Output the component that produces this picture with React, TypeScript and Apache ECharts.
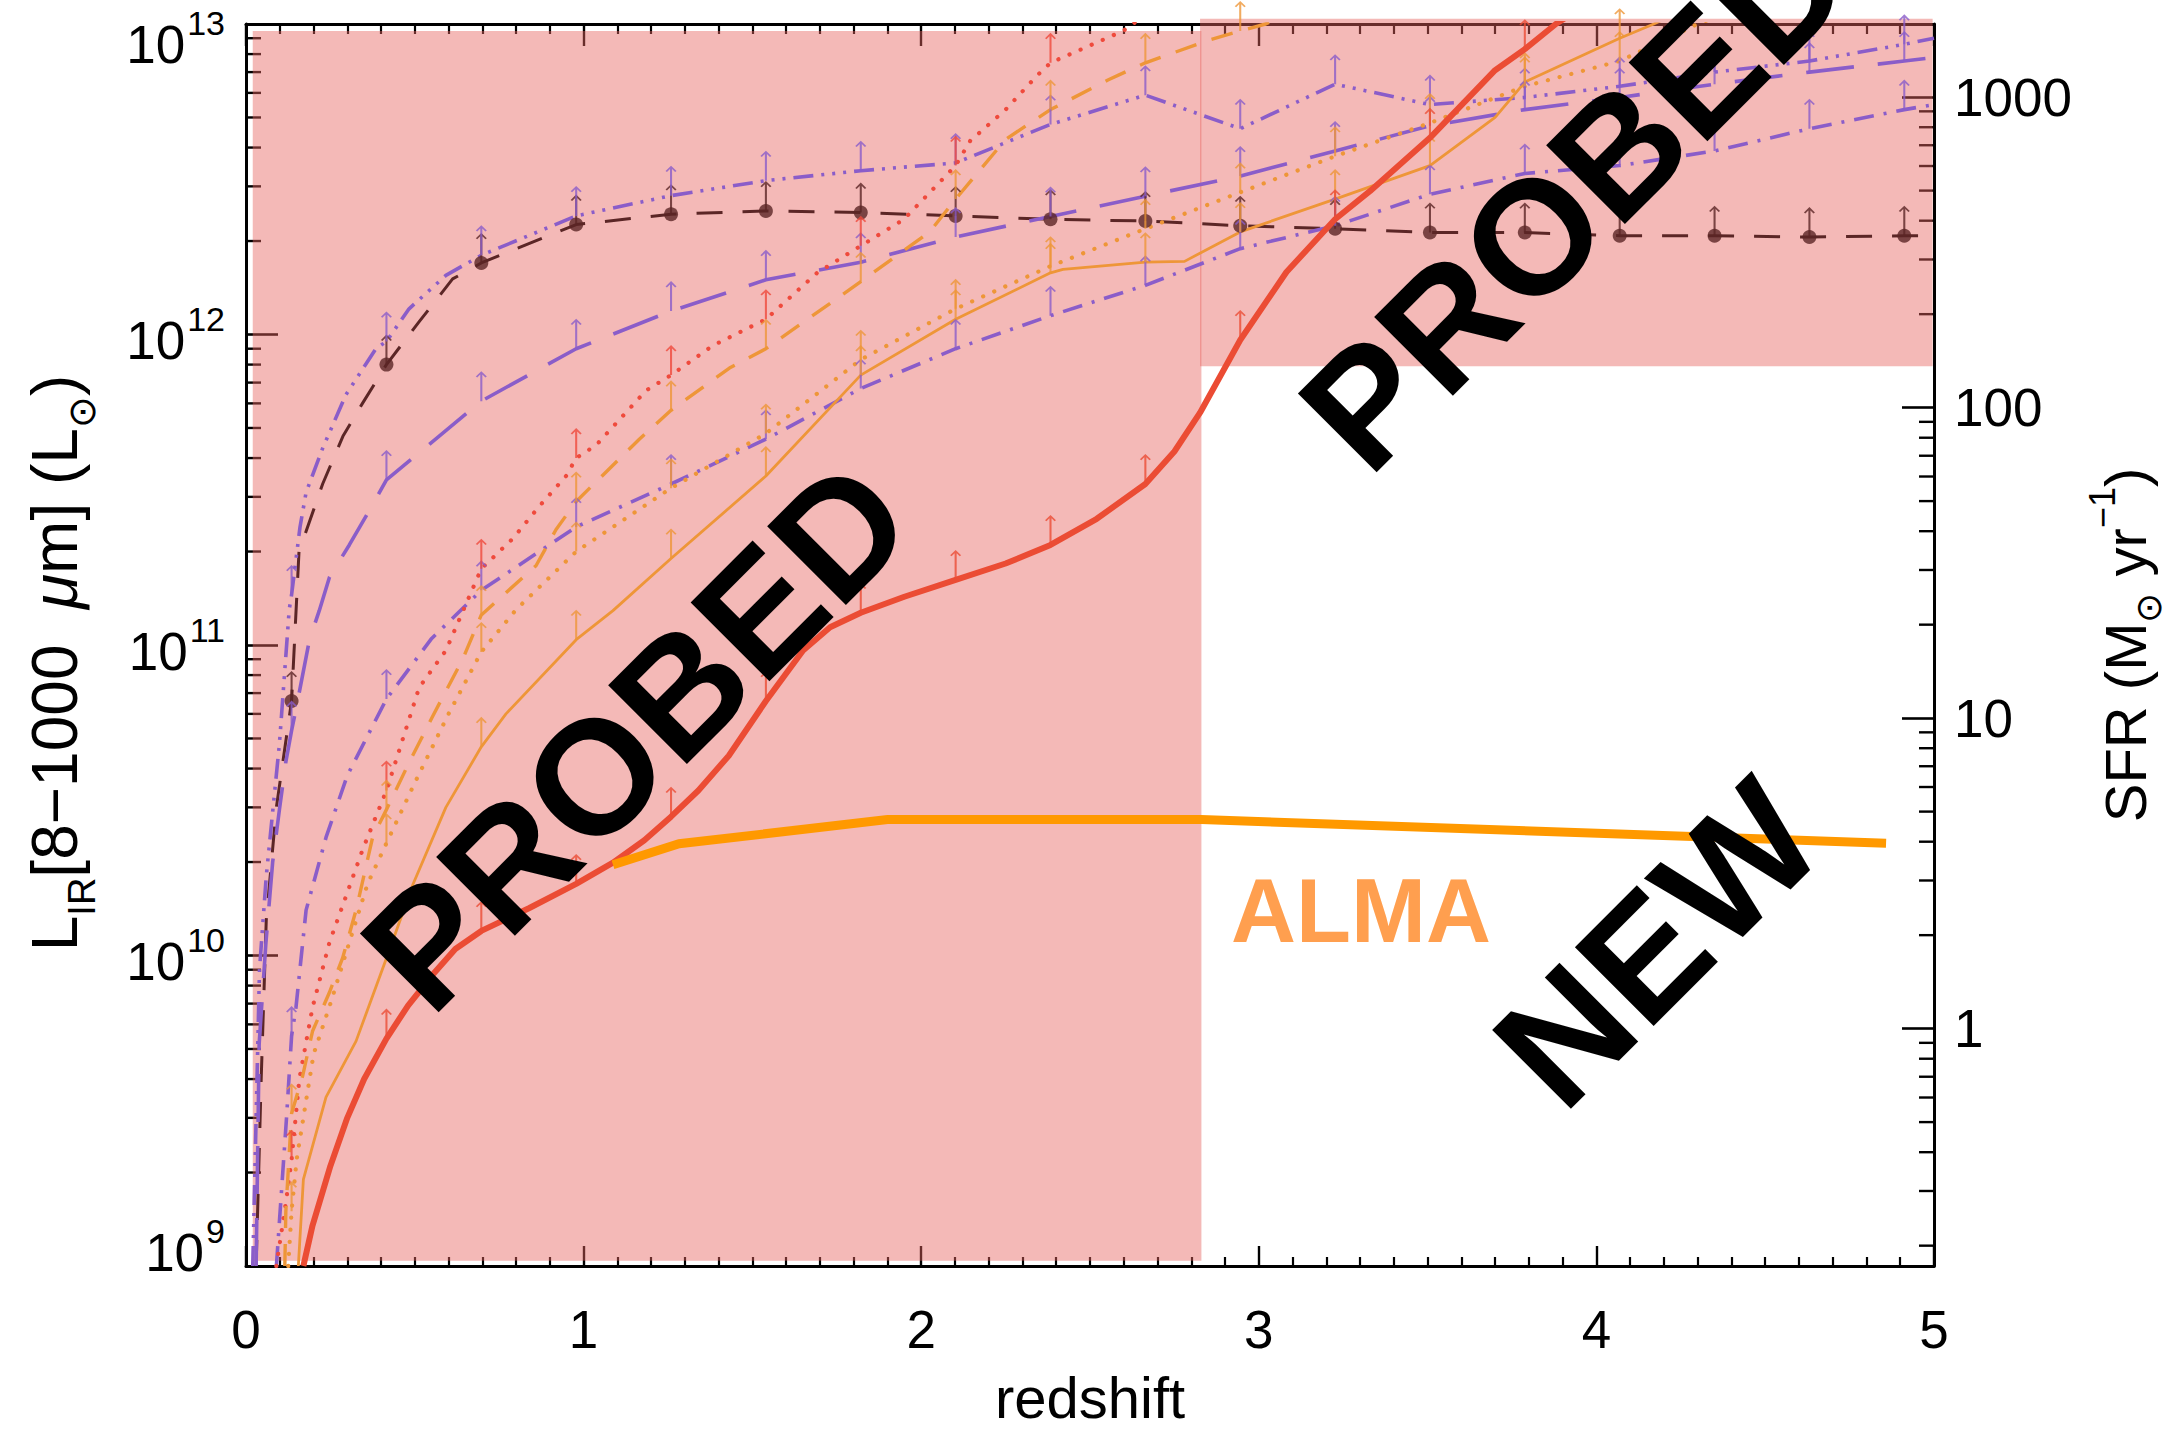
import { useEffect, useRef } from "react";
import * as echarts from "echarts";

type Pt = [number, number];

// ---- axes ----
const Z_MIN = 0;
const Z_MAX = 5;
const X_TICKS = [0, 1, 2, 3, 4, 5];
const L_MIN = 1e9;
const L_MAX = 1e13;
const L_EXPONENTS = [9, 10, 11, 12, 13];
const KENNICUTT = 1.72e-10; // SFR [Msun/yr] per L_IR [Lsun]
const SFR_TICKS = [1, 10, 100, 1000];
const MINOR_MANTISSAS = [2, 3, 4, 5, 6, 7, 8, 9];

// redshifts at which each limit carries a lower-limit arrow
const GRID_Z = [0.135, 0.416, 0.697, 0.978, 1.259, 1.54, 1.821, 2.102, 2.383, 2.664, 2.945, 3.226, 3.507, 3.788, 4.069, 4.35, 4.631, 4.912];

// ---- detection limits, [redshift, L_IR] ----
const BROWN_DASHED: Pt[] = [
  [0.03, 1.0e9], [0.045, 4.0e9], [0.06, 1.3e10], [0.09, 3.0e10], [0.135, 6.6e10], [0.157, 2.0e11],
  [0.227, 3.3e11], [0.287, 4.7e11], [0.345, 6.0e11], [0.416, 8.0e11], [0.513, 1.1e12], [0.612, 1.51e12],
  [0.697, 1.7e12], [0.978, 2.26e12], [1.259, 2.44e12], [1.54, 2.5e12], [1.821, 2.47e12], [2.102, 2.41e12],
  [2.383, 2.35e12], [2.664, 2.32e12], [2.945, 2.24e12], [3.226, 2.19e12], [3.507, 2.13e12], [3.788, 2.13e12],
  [4.069, 2.08e12], [4.35, 2.08e12], [4.631, 2.06e12], [4.912, 2.08e12], [5.0, 2.08e12],
];
const PURPLE_DASH_3DOT: Pt[] = [
  [0.02, 1.0e9], [0.04, 9.0e9], [0.06, 1.8e10], [0.099, 4.8e10], [0.128, 1.3e11], [0.135, 1.45e11],
  [0.16, 2.4e11], [0.178, 3.1e11], [0.227, 4.3e11], [0.296, 6.4e11], [0.385, 9.0e11], [0.416, 9.5e11],
  [0.483, 1.21e12], [0.592, 1.55e12], [0.697, 1.8e12], [0.978, 2.41e12], [1.259, 2.8e12], [1.54, 3.13e12],
  [1.821, 3.37e12], [2.102, 3.57e12], [2.383, 4.75e12], [2.664, 5.9e12], [2.945, 4.6e12], [3.226, 6.4e12],
  [3.507, 5.5e12], [3.788, 5.8e12], [4.069, 6.3e12], [4.35, 7.0e12], [4.631, 7.6e12], [4.912, 8.6e12], [5.0, 9.0e12],
];
const PURPLE_LONG_DASH: Pt[] = [
  [0.03, 1.0e9], [0.039, 5.2e9], [0.059, 1.1e10], [0.079, 2.0e10], [0.099, 2.95e10], [0.118, 4.2e10],
  [0.135, 5.3e10], [0.148, 6.2e10], [0.188, 1.04e11], [0.217, 1.29e11], [0.247, 1.65e11], [0.306, 2.1e11],
  [0.375, 2.83e11], [0.416, 3.4e11], [0.697, 6.1e11], [0.978, 9.0e11], [1.259, 1.19e12], [1.54, 1.5e12],
  [1.821, 1.71e12], [2.102, 2.06e12], [2.383, 2.4e12], [2.664, 2.79e12], [2.945, 3.24e12], [3.226, 3.9e12],
  [3.507, 4.7e12], [3.788, 5.3e12], [4.069, 5.8e12], [4.35, 6.4e12], [4.631, 7.0e12], [4.912, 7.6e12], [5.0, 7.8e12],
];
const PURPLE_DASH_DOT: Pt[] = [
  [0.09, 1.0e9], [0.12, 3.0e9], [0.135, 5.5e9], [0.148, 6.8e9], [0.178, 1.4e10], [0.237, 2.4e10],
  [0.3, 3.8e10], [0.416, 6.7e10], [0.55, 1.05e11], [0.697, 1.5e11], [0.978, 2.4e11], [1.259, 3.3e11],
  [1.54, 4.6e11], [1.821, 6.7e11], [2.102, 9.0e11], [2.383, 1.15e12], [2.664, 1.44e12], [2.945, 1.89e12],
  [3.226, 2.24e12], [3.507, 2.83e12], [3.788, 3.3e12], [4.069, 3.5e12], [4.35, 3.9e12], [4.631, 4.6e12],
  [4.912, 5.3e12], [5.0, 5.5e12],
];
const RED_DOTTED: Pt[] = [
  [0.09, 1.0e9], [0.118, 1.6e9], [0.135, 2.2e9], [0.158, 4.0e9], [0.197, 6.8e9], [0.247, 1.1e10],
  [0.296, 1.55e10], [0.346, 2.2e10], [0.416, 3.4e10], [0.513, 7.3e10], [0.592, 9.6e10], [0.697, 1.76e11],
  [0.79, 2.2e11], [0.869, 2.8e11], [0.948, 3.5e11], [0.978, 4.0e11], [1.037, 4.4e11], [1.185, 6.6e11],
  [1.259, 7.4e11], [1.382, 9.2e11], [1.54, 1.12e12], [1.692, 1.58e12], [1.821, 1.93e12], [1.949, 2.35e12],
  [2.102, 3.5e12], [2.145, 4.2e12], [2.25, 5.3e12], [2.342, 6.8e12], [2.383, 7.5e12], [2.598, 9.5e12], [2.68, 1.1e13],
];
const ORANGE_DASHED: Pt[] = [
  [0.115, 1.0e9], [0.118, 1.5e9], [0.135, 3.1e9], [0.168, 4.1e9], [0.197, 5.7e9], [0.247, 7.6e9],
  [0.286, 9.8e9], [0.326, 1.4e10], [0.375, 2.4e10], [0.416, 2.95e10], [0.484, 4.2e10], [0.553, 5.9e10],
  [0.642, 9.0e10], [0.697, 1.25e11], [0.859, 1.8e11], [0.918, 2.35e11], [0.978, 2.9e11], [1.165, 4.6e11],
  [1.259, 5.7e11], [1.432, 7.8e11], [1.54, 9.0e11], [1.821, 1.48e12], [2.025, 2.14e12], [2.102, 2.73e12],
  [2.25, 4.25e12], [2.383, 5.3e12], [2.553, 6.6e12], [2.664, 7.5e12], [2.856, 8.9e12], [2.945, 9.5e12],
  [3.02, 1.0e13], [3.1, 1.1e13],
];
const ORANGE_DOTTED: Pt[] = [
  [0.125, 1.0e9], [0.135, 1.5e9], [0.15, 2.2e9], [0.2, 4.8e9], [0.25, 7.0e9], [0.3, 1.05e10],
  [0.36, 1.7e10], [0.416, 2.3e10], [0.5, 3.6e10], [0.6, 6.0e10], [0.697, 9.5e10], [0.8, 1.3e11],
  [0.978, 2.0e11], [1.259, 3.2e11], [1.54, 4.8e11], [1.821, 8.3e11], [2.102, 1.21e12], [2.383, 1.66e12],
  [2.664, 2.19e12], [2.945, 2.87e12], [3.226, 3.75e12], [3.507, 4.8e12], [3.788, 6.3e12], [4.069, 7.6e12],
  [4.3, 1.0e13], [4.4, 1.1e13],
];
const ORANGE_SOLID: Pt[] = [
  [0.155, 1.0e9], [0.17, 1.9e9], [0.237, 3.5e9], [0.326, 5.3e9], [0.416, 9.8e9], [0.495, 1.7e10],
  [0.592, 3.0e10], [0.697, 4.7e10], [0.77, 6.0e10], [0.978, 1.04e11], [1.087, 1.29e11], [1.259, 1.9e11],
  [1.54, 3.5e11], [1.821, 7.4e11], [2.102, 1.12e12], [2.383, 1.58e12], [2.42, 1.62e12], [2.664, 1.71e12],
  [2.78, 1.72e12], [2.945, 2.14e12], [3.226, 2.73e12], [3.507, 3.5e12], [3.7, 5.0e12], [3.788, 6.5e12],
  [4.069, 9.0e12], [4.17, 1.0e13], [4.25, 1.1e13],
];
const RED_SOLID: Pt[] = [
  [0.17, 1.0e9], [0.197, 1.35e9], [0.25, 2.1e9], [0.3, 3.0e9], [0.35, 4.0e9], [0.416, 5.4e9],
  [0.48, 6.9e9], [0.554, 8.7e9], [0.62, 1.05e10], [0.697, 1.2e10], [0.838, 1.42e10], [0.978, 1.7e10],
  [1.087, 1.99e10], [1.18, 2.35e10], [1.259, 2.8e10], [1.34, 3.4e10], [1.43, 4.4e10], [1.54, 6.6e10],
  [1.65, 9.6e10], [1.73, 1.14e11], [1.821, 1.27e11], [1.95, 1.43e11], [2.102, 1.62e11], [2.25, 1.83e11],
  [2.383, 2.1e11], [2.52, 2.55e11], [2.664, 3.3e11], [2.75, 4.2e11], [2.826, 5.6e11], [2.945, 9.6e11],
  [3.082, 1.59e12], [3.226, 2.35e12], [3.33, 2.9e12], [3.507, 4.3e12], [3.7, 7.1e12], [3.788, 8.3e12],
  [3.88, 1.0e13], [3.95, 1.12e13],
];
const ALMA_LIMIT: Pt[] = [
  [1.087, 1.96e10], [1.283, 2.29e10], [1.9, 2.74e10], [2.83, 2.74e10], [4.858, 2.3e10],
];

// shaded areas already covered: [zFrom, zTo, L_from, L_to]
const PROBED_REGIONS: [number, number, number, number][] = [
  [0.02, 2.83, 1.04e9, 9.5e12],
  [2.826, 4.996, 7.9e11, 1.04e13],
];

// ---- styles ----
const FONT = '"Liberation Sans", Arial, Helvetica, sans-serif';
const PURPLE = "#8a5dc9";
const BROWN = "#5b2626";
const RED_DOT = "#ef4a3c";
const ORANGE = "#ee9638";
const RED_THICK = "#eb4c34";
const ALMA_ORANGE = "#ff9900";
const ALMA_TEXT = "#ff9f4f";
const SHADE = "rgba(231,99,95,0.45)";
const ARROW =
  "path://M10,0 L18.5,9.6 L16.3,11.4 L11.6,6 L11.6,54 L8.4,54 L8.4,6 L3.7,11.4 L1.5,9.6 Z";

type Curve = {
  data: Pt[];
  color: string;
  width: number;
  dash: number[] | "solid";
  cap?: "round" | "butt";
  dots?: boolean;
  z: number;
};

const CURVES: Curve[] = [
  { data: BROWN_DASHED, color: BROWN, width: 3, dash: [26, 20], dots: true, z: 2 },
  { data: PURPLE_DASH_3DOT, color: PURPLE, width: 3.6, dash: [20, 8, 3, 8, 3, 8, 3, 8], z: 2 },
  { data: PURPLE_LONG_DASH, color: PURPLE, width: 3.6, dash: [48, 24], z: 2 },
  { data: PURPLE_DASH_DOT, color: PURPLE, width: 3.6, dash: [20, 10, 3, 10], z: 2 },
  { data: RED_DOTTED, color: RED_DOT, width: 4.2, dash: [0.1, 12], cap: "round", z: 2 },
  { data: ORANGE_DASHED, color: ORANGE, width: 3.4, dash: [22, 16], z: 2 },
  { data: ORANGE_DOTTED, color: ORANGE, width: 4.2, dash: [0.1, 12], cap: "round", z: 2 },
  { data: ORANGE_SOLID, color: ORANGE, width: 2.8, dash: "solid", z: 2 },
  { data: RED_SOLID, color: RED_THICK, width: 6, dash: "solid", z: 3 },
];

function minorTickValues(lo: number, hi: number): number[] {
  const out: number[] = [];
  for (let e = Math.floor(Math.log10(lo)); e <= Math.ceil(Math.log10(hi)); e++) {
    for (const m of MINOR_MANTISSAS) {
      const v = m * Math.pow(10, e);
      if (v > lo && v < hi) out.push(v);
    }
  }
  return out;
}

function tickSeries(values: number[], yAxisIndex: number, xEdge: number, dir: number) {
  return {
    type: "custom",
    xAxisIndex: 0,
    yAxisIndex,
    z: 0,
    silent: true,
    clip: false,
    data: values.map((v) => [xEdge, v]),
    renderItem: (_p: any, api: any) => {
      const p = api.coord([api.value(0), api.value(1)]);
      return {
        type: "line",
        shape: { x1: p[0], y1: p[1], x2: p[0] + dir * 15, y2: p[1] },
        style: { stroke: "#000", lineWidth: 2.4 },
      };
    },
  };
}

function buildOption(): any {
  const series: any[] = [];

  // shaded "probed" regions, laid over the frame but under the curves
  series.push({
    type: "custom",
    xAxisIndex: 0,
    yAxisIndex: 0,
    z: 1,
    silent: true,
    clip: false,
    encode: { x: [0, 1], y: [2, 3] },
    data: PROBED_REGIONS,
    renderItem: (_p: any, api: any) => {
      const a = api.coord([api.value(0), api.value(3)]);
      const b = api.coord([api.value(1), api.value(2)]);
      return {
        type: "rect",
        shape: { x: a[0], y: a[1], width: b[0] - a[0], height: b[1] - a[1] },
        style: { fill: SHADE },
      };
    },
  });

  // log minor ticks on both vertical axes
  series.push(tickSeries(minorTickValues(L_MIN, L_MAX), 0, Z_MIN, 1));
  series.push(tickSeries(minorTickValues(L_MIN * KENNICUTT, L_MAX * KENNICUTT), 1, Z_MAX, -1));

  for (const c of CURVES) {
    series.push({
      type: "line",
      data: c.data,
      showSymbol: false,
      symbol: "none",
      smooth: false,
      silent: true,
      z: c.z,
      lineStyle: { color: c.color, width: c.width, type: c.dash, cap: c.cap ?? "butt", join: "round" },
    });
    const marks = c.data.filter((p) => GRID_Z.includes(p[0]) && p[1] >= L_MIN && p[1] <= L_MAX);
    series.push({
      type: "scatter",
      data: marks,
      symbol: ARROW,
      symbolSize: [11, 30],
      symbolOffset: [0, "-50%"],
      silent: true,
      z: c.z,
      itemStyle: { color: c.color },
    });
    if (c.dots) {
      series.push({
        type: "scatter",
        data: marks,
        symbol: "circle",
        symbolSize: 14,
        silent: true,
        z: c.z,
        itemStyle: { color: c.color },
      });
    }
  }

  series.push({
    type: "line",
    data: ALMA_LIMIT,
    showSymbol: false,
    symbol: "none",
    silent: true,
    z: 4,
    lineStyle: { color: ALMA_ORANGE, width: 9, cap: "butt", join: "miter" },
  });

  const frame = { show: true, onZero: false, lineStyle: { color: "#000", width: 3 } };
  const txt = { fontFamily: FONT, color: "#000" };

  return {
    animation: false,
    backgroundColor: "#fff",
    grid: { left: 246, right: 243, top: 24, bottom: 159, containLabel: false },
    xAxis: [
      {
        type: "value",
        position: "bottom",
        min: Z_MIN,
        max: Z_MAX,
        interval: 1,
        axisLine: frame,
        axisTick: { show: true, inside: true, length: 20, lineStyle: { color: "#000", width: 2.4 } },
        minorTick: { show: true, splitNumber: 10, length: 9, lineStyle: { color: "#000", width: 2.2 } },
        splitLine: { show: false },
        axisLabel: {
          margin: 37,
          fontSize: 53,
          ...txt,
          formatter: (v: number) => (X_TICKS.includes(v) ? String(v) : ""),
        },
        name: "redshift",
        nameLocation: "middle",
        nameGap: 102,
        nameTextStyle: { fontSize: 58, ...txt },
      },
      {
        type: "value",
        position: "top",
        min: Z_MIN,
        max: Z_MAX,
        interval: 1,
        axisLine: frame,
        axisTick: { show: true, inside: true, length: 22, lineStyle: { color: "#000", width: 2.4 } },
        minorTick: { show: true, splitNumber: 10, length: 10, lineStyle: { color: "#000", width: 2.2 } },
        splitLine: { show: false },
        axisLabel: { show: false },
      },
    ],
    yAxis: [
      {
        type: "log",
        logBase: 10,
        position: "left",
        min: L_MIN,
        max: L_MAX,
        axisLine: frame,
        axisTick: { show: true, inside: true, length: 32, lineStyle: { color: "#000", width: 2.6 } },
        splitLine: { show: false },
        axisLabel: {
          margin: 21,
          showMinLabel: true,
          showMaxLabel: true,
          ...txt,
          formatter: (v: number) => {
            const e = Math.round(Math.log10(v));
            if (!L_EXPONENTS.includes(e)) return "";
            const k = e === L_EXPONENTS[0] ? "lo" : e === L_EXPONENTS[L_EXPONENTS.length - 1] ? "hi" : "md";
            return `{b${k}|10}{s${k}|${e}}`;
          },
          rich: {
            bmd: { fontSize: 53, ...txt, verticalAlign: "bottom", padding: [12, 0, 0, 0] },
            smd: { fontSize: 34, ...txt, verticalAlign: "top", padding: [0, 0, 0, 2] },
            bhi: { fontSize: 53, ...txt, verticalAlign: "bottom", padding: [40, 0, 0, 0] },
            shi: { fontSize: 34, ...txt, verticalAlign: "top", padding: [28, 0, 0, 2] },
            blo: { fontSize: 53, ...txt, verticalAlign: "bottom", padding: [12, 0, 40, 0] },
            slo: { fontSize: 34, ...txt, verticalAlign: "top", padding: [0, 0, 0, 2] },
          },
        },
        name: "{t|L}{sub|IR}{t|[8\u22121000\u00a0\u00a0}{mu|\u03bc}{t|m]\u00a0(L}{sub|\u2299}{t|)}",
        nameLocation: "middle",
        nameGap: 145,
        nameTextStyle: {
          fontSize: 64,
          ...txt,
          padding: [0, 36, 0, 0],
          rich: {
            t: { fontSize: 64, ...txt, verticalAlign: "top", padding: [0, 0, 14, 0] },
            mu: { fontSize: 64, ...txt, fontStyle: "italic", verticalAlign: "top", padding: [0, 0, 14, 0] },
            sub: { fontSize: 38, ...txt, verticalAlign: "bottom" },
          },
        },
      },
      {
        type: "log",
        logBase: 10,
        position: "right",
        min: L_MIN * KENNICUTT,
        max: L_MAX * KENNICUTT,
        axisLine: frame,
        axisTick: { show: true, inside: true, length: 32, lineStyle: { color: "#000", width: 2.6 } },
        splitLine: { show: false },
        axisLabel: {
          margin: 20,
          fontSize: 53,
          ...txt,
          showMinLabel: true,
          showMaxLabel: true,
          formatter: (v: number) => {
            const t = SFR_TICKS.find((s) => Math.abs(s - v) / s < 1e-6);
            return t === undefined ? "" : String(t);
          },
        },
        name: "{t|SFR\u00a0(M}{sub|\u2299}{t|\u00a0yr}{sup|\u22121}{t|)}",
        nameLocation: "middle",
        nameGap: 150,
        nameTextStyle: {
          fontSize: 58,
          ...txt,
          rich: {
            t: { fontSize: 58, ...txt, verticalAlign: "middle", padding: [12, 0, 12, 0] },
            sub: { fontSize: 36, ...txt, verticalAlign: "bottom" },
            sup: { fontSize: 36, ...txt, verticalAlign: "top" },
          },
        },
      },
    ],
    series,
    graphic: [
      {
        type: "text",
        x: 636,
        y: 735,
        rotation: Math.PI / 4,
        z: 100,
        silent: true,
        style: { text: "PROBED", fill: "#000", font: `bold 162px ${FONT}`, align: "center", verticalAlign: "middle" },
      },
      {
        type: "text",
        x: 1574,
        y: 195,
        rotation: Math.PI / 4,
        z: 100,
        silent: true,
        style: { text: "PROBED", fill: "#000", font: `bold 162px ${FONT}`, align: "center", verticalAlign: "middle" },
      },
      {
        type: "text",
        x: 1657,
        y: 943,
        rotation: Math.PI / 4,
        z: 100,
        silent: true,
        style: { text: "NEW", fill: "#000", font: `bold 162px ${FONT}`, align: "center", verticalAlign: "middle" },
      },
      {
        type: "text",
        x: 1231,
        y: 911,
        z: 100,
        silent: true,
        style: { text: "ALMA", fill: ALMA_TEXT, font: `bold 90px ${FONT}`, align: "left", verticalAlign: "middle" },
      },
    ],
  };
}

export default function App() {
  const ref = useRef<HTMLDivElement>(null);
  useEffect(() => {
    if (!ref.current) return;
    const chart = echarts.init(ref.current, undefined, { renderer: "svg" });
    chart.setOption(buildOption());
    return () => chart.dispose();
  }, []);
  return (
    <div
      ref={ref}
      style={{ position: "absolute", left: 0, top: 0, width: 2177, height: 1431 }}
    />
  );
}
